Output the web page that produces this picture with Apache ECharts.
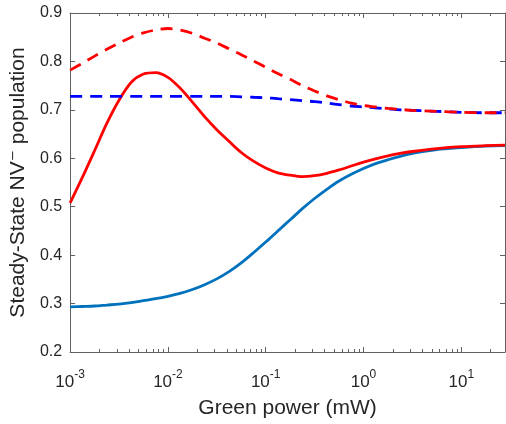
<!DOCTYPE html>
<html>
<head>
<meta charset="utf-8">
<script src="https://cdn.jsdelivr.net/npm/echarts@6/dist/echarts.min.js"></script>
<style>
  html, body { margin: 0; padding: 0; background: #fff; }
  #container { width: 506px; height: 424px; }
</style>
</head>
<body>
<div id="container"></div>
<script>
// green power (mW)
var power = [0.001, 0.00133, 0.00178, 0.00237, 0.00316, 0.00422, 0.00562, 0.0075,
             0.01, 0.0133, 0.0178, 0.0237, 0.0316, 0.0422, 0.0562, 0.075,
             0.1, 0.133, 0.178, 0.237, 0.316, 0.422, 0.562, 0.75,
             1, 1.33, 1.78, 2.37, 3.16, 5.62, 10, 17.8, 28];

var redSolid = [0.508, 0.560, 0.616, 0.672, 0.720, 0.757, 0.774, 0.777,
                0.767, 0.745, 0.716, 0.686, 0.659, 0.635, 0.612, 0.594,
                0.580, 0.570, 0.565, 0.562, 0.564, 0.569, 0.576, 0.584,
                0.592, 0.599, 0.605, 0.610, 0.614, 0.620, 0.624, 0.626, 0.627];
var blueSolid = [0.293, 0.294, 0.295, 0.297, 0.299, 0.302, 0.306, 0.310,
                 0.315, 0.321, 0.329, 0.339, 0.351, 0.366, 0.384, 0.405,
                 0.427, 0.450, 0.473, 0.496, 0.517, 0.536, 0.553, 0.567,
                 0.579, 0.589, 0.597, 0.604, 0.610, 0.618, 0.622, 0.625, 0.626];
var redDashed = [0.782, 0.796, 0.811, 0.825, 0.838, 0.850, 0.859, 0.865,
                 0.868, 0.865, 0.858, 0.848, 0.838, 0.826, 0.814, 0.801,
                 0.788, 0.775, 0.763, 0.750, 0.739, 0.729, 0.721, 0.714,
                 0.709, 0.706, 0.703, 0.701, 0.699, 0.697, 0.695, 0.694, 0.694];
var blueDashed = [0.728, 0.728, 0.728, 0.728, 0.728, 0.728, 0.728, 0.728,
                  0.728, 0.728, 0.728, 0.728, 0.728, 0.728, 0.727, 0.726,
                  0.725, 0.723, 0.721, 0.719, 0.717, 0.714, 0.711, 0.708,
                  0.706, 0.704, 0.702, 0.700, 0.699, 0.697, 0.695, 0.694, 0.694];

var majorTicks = [0.001, 0.01, 0.1, 1, 10];
var yTicks = [0.2, 0.3, 0.4, 0.5, 0.6, 0.7, 0.8, 0.9];
var minorTicks = [];
majorTicks.forEach(function (d) {
    for (var k = 2; k <= 9; k++) {
        if (k * d <= 28) minorTicks.push(+(k * d).toPrecision(3));
    }
});

var xMin = 0.001, xMax = 28;
var axisColor = '#606060';
var textColor = '#262626';
var font = 'Liberation Sans, DejaVu Sans, sans-serif';

function pairs(ys) {
    return power.map(function (p, i) { return [p, ys[i]]; });
}

function xAxisBase(pos, ticks, len, withLine) {
    return {
        type: 'log',
        logBase: 10,
        min: xMin,
        max: xMax,
        position: pos,
        axisLine: { show: withLine, lineStyle: { color: axisColor, width: 1 } },
        axisTick: { show: true, inside: true, length: len, customValues: ticks,
                    lineStyle: { color: axisColor, width: 1 } },
        axisLabel: { show: false },
        splitLine: { show: false },
        minorTick: { show: false }
    };
}

function yAxisBase(pos) {
    return {
        type: 'value',
        min: 0.2,
        max: 0.9,
        interval: 0.1,
        position: pos,
        axisLine: { show: true, lineStyle: { color: axisColor, width: 1 } },
        axisTick: { show: true, inside: true, length: 5, customValues: yTicks,
                    lineStyle: { color: axisColor, width: 1 } },
        splitLine: { show: false },
        axisLabel: { show: false }
    };
}

var bottomMajor = xAxisBase('bottom', majorTicks, 5, true);
bottomMajor.axisLabel = {
    show: true,
    customValues: majorTicks,
    margin: 17,
    formatter: function (v) {
        return '{b|10}{s|' + Math.round(Math.log10(v)) + '}';
    },
    rich: {
        b: { fontSize: 17, color: textColor, fontFamily: font, lineHeight: 26 },
        s: { fontSize: 12, color: textColor, fontFamily: font, verticalAlign: 'top', lineHeight: 12 }
    }
};
bottomMajor.name = 'Green power (mW)';
bottomMajor.nameLocation = 'middle';
bottomMajor.nameGap = 46;
bottomMajor.nameTextStyle = { fontSize: 21, color: textColor, fontFamily: font };

var leftAxis = yAxisBase('left');
leftAxis.axisLabel = {
    show: true,
    customValues: yTicks,
    margin: 8,
    fontSize: 16,
    color: textColor,
    fontFamily: font,
    formatter: function (v) { return v.toFixed(1); }
};
leftAxis.name = 'Steady-State NV\u207B population';
leftAxis.nameLocation = 'middle';
leftAxis.nameGap = 40;
leftAxis.nameTextStyle = { fontSize: 21, color: textColor, fontFamily: font };

var dom = document.getElementById('container');
var myChart = echarts.init(dom);

var option = {
    animation: false,
    grid: { left: 70, right: 1, top: 13, bottom: 72 },
    xAxis: [
        bottomMajor,
        xAxisBase('bottom', minorTicks, 3, false),
        xAxisBase('top', majorTicks, 5, true),
        xAxisBase('top', minorTicks, 3, false)
    ],
    yAxis: [leftAxis, yAxisBase('right')],
    series: [{
        name: 'blue solid',
        type: 'line',
        data: pairs(blueSolid),
        smooth: 0.3,
        symbol: 'none',
        lineStyle: { color: '#0072BD', width: 2.8 }
    }, {
        name: 'red solid',
        type: 'line',
        data: pairs(redSolid),
        smooth: 0.3,
        symbol: 'none',
        lineStyle: { color: '#ff0000', width: 2.8 }
    }, {
        name: 'blue dashed',
        type: 'line',
        data: pairs(blueDashed),
        smooth: 0.3,
        symbol: 'none',
        lineStyle: { color: '#0000ff', width: 2.8, type: [12, 8] }
    }, {
        name: 'red dashed',
        type: 'line',
        data: pairs(redDashed),
        smooth: 0.3,
        symbol: 'none',
        lineStyle: { color: '#ff0000', width: 2.8, type: [12, 8] }
    }]
};

if (option && typeof option === "object") {
    myChart.setOption(option, true);
}
</script>
</body>
</html>
